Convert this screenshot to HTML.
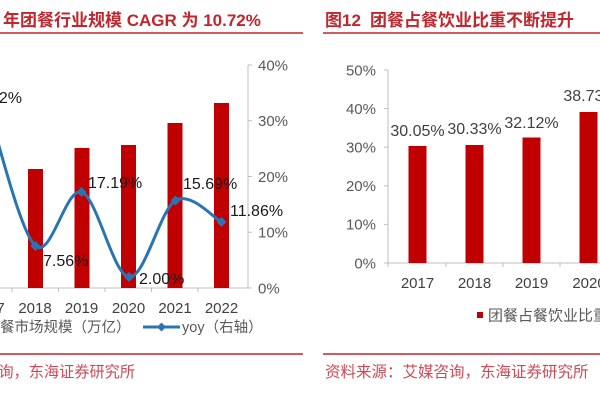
<!DOCTYPE html>
<html><head><meta charset="utf-8"><style>
html,body{margin:0;padding:0;background:#fff;width:600px;height:400px;overflow:hidden}
svg{display:block;font-family:"Liberation Sans","Noto Sans CJK SC",sans-serif}
</style></head><body>
<svg width="600" height="400" viewBox="0 0 600 400" xmlns="http://www.w3.org/2000/svg">
<rect width="600" height="400" fill="#fff"/>

<!-- LEFT PANEL -->
<text x="-3" y="26" text-anchor="end" font-size="17" font-weight="bold" fill="#C0262D">图11  2017-2022</text>
<text x="3" y="26" font-size="17" font-weight="bold" fill="#C0262D">年团餐行业规模 CAGR 为 10.72%</text>
<line x1="0" y1="33" x2="303" y2="33" stroke="#C0262D" stroke-width="1.6"/>

<!-- right axis -->
<g stroke="#BFBFBF" stroke-width="1">
<line x1="248" y1="65" x2="248" y2="288"/>
<line x1="248" y1="65" x2="252" y2="65"/>
<line x1="248" y1="120.75" x2="252" y2="120.75"/>
<line x1="248" y1="176.5" x2="252" y2="176.5"/>
<line x1="248" y1="232.25" x2="252" y2="232.25"/>
<line x1="248" y1="288" x2="252" y2="288"/>
<line x1="0" y1="288" x2="248" y2="288"/>
<line x1="12" y1="288" x2="12" y2="292"/>
<line x1="58.5" y1="288" x2="58.5" y2="292"/>
<line x1="105" y1="288" x2="105" y2="292"/>
<line x1="151.5" y1="288" x2="151.5" y2="292"/>
<line x1="198" y1="288" x2="198" y2="292"/>
</g>
<g font-size="15" fill="#595959">
<text x="258" y="70.5">40%</text>
<text x="258" y="126">30%</text>
<text x="258" y="182">20%</text>
<text x="258" y="237.5">10%</text>
<text x="258" y="293.5">0%</text>
</g>

<!-- bars -->
<g fill="#C00000">
<rect x="28" y="169" width="15" height="119"/>
<rect x="74.5" y="148" width="15" height="140"/>
<rect x="121" y="145" width="15" height="143"/>
<rect x="167.5" y="123" width="15" height="165"/>
<rect x="214" y="103" width="15" height="185"/>
</g>

<!-- yoy line -->
<path d="M-11,112 C-3.25,134 20.1,232.3 35.5,246 C50.9,259.7 65.9,186.8 81.5,192 C97.1,197.2 113.3,275.6 129,277 C144.7,278.4 160.1,209.7 175.5,200.5 C190.9,191.3 213.8,218.4 221.5,222" fill="none" stroke="#2A74B4" stroke-width="3"/>
<g fill="#2A74B4">
<polygon points="35.5,241 40.5,246 35.5,251 30.5,246"/>
<polygon points="81.5,187 86.5,192 81.5,197 76.5,192"/>
<polygon points="129,272 134,277 129,282 124,277"/>
<polygon points="175.5,195.5 180.5,200.5 175.5,205.5 170.5,200.5"/>
<polygon points="221.5,217 226.5,222 221.5,227 216.5,222"/>
</g>

<!-- data labels -->
<g font-size="16" fill="#1a1a1a">
<text x="22" y="103" text-anchor="end">28.82%</text>
<text x="88" y="188">17.19%</text>
<text x="183" y="189">15.69%</text>
<text x="230" y="216">11.86%</text>
<text x="43" y="266">7.56%</text>
<text x="139" y="284">2.00%</text>
</g>

<!-- x labels -->
<g font-size="15" fill="#404040" text-anchor="middle">
<text x="-12" y="313">2017</text>
<text x="35" y="313">2018</text>
<text x="81.5" y="313">2019</text>
<text x="128.5" y="313">2020</text>
<text x="175" y="313">2021</text>
<text x="221.5" y="313">2022</text>
</g>

<!-- legend -->
<text x="-14.5" y="332" font-size="14.5" fill="#595959">团餐市场规模（万亿）</text>
<line x1="143" y1="327" x2="180" y2="327" stroke="#2A74B4" stroke-width="3"/>
<polygon points="161.5,322.5 166,327 161.5,331.5 157,327" fill="#2A74B4"/>
<text x="182" y="332" font-size="14.5" fill="#595959">yoy（右轴）</text>

<line x1="0" y1="354" x2="303" y2="354" stroke="#C0262D" stroke-width="1.6"/>
<text x="135" y="377" text-anchor="end" font-size="15.2" fill="#CC4A57">资料来源：艾媒咨询，东海证券研究所</text>

<!-- RIGHT PANEL -->
<text x="325" y="26" font-size="17" font-weight="bold" fill="#C0262D">图12</text>
<text x="370" y="26" font-size="17" font-weight="bold" fill="#C0262D">团餐占餐饮业比重不断提升</text>
<line x1="323" y1="33" x2="600" y2="33" stroke="#C0262D" stroke-width="1.6"/>

<g stroke="#BFBFBF" stroke-width="1">
<line x1="388" y1="70" x2="388" y2="263"/>
<line x1="384" y1="70" x2="388" y2="70"/>
<line x1="384" y1="108.6" x2="388" y2="108.6"/>
<line x1="384" y1="147.2" x2="388" y2="147.2"/>
<line x1="384" y1="185.8" x2="388" y2="185.8"/>
<line x1="384" y1="224.4" x2="388" y2="224.4"/>
<line x1="384" y1="263" x2="388" y2="263"/>
<line x1="388" y1="263" x2="600" y2="263"/>
<line x1="388" y1="263" x2="388" y2="267"/>
<line x1="446" y1="263" x2="446" y2="267"/>
<line x1="503" y1="263" x2="503" y2="267"/>
<line x1="560" y1="263" x2="560" y2="267"/>
</g>
<g font-size="15" fill="#595959" text-anchor="end">
<text x="376" y="75.5">50%</text>
<text x="376" y="114">40%</text>
<text x="376" y="152.5">30%</text>
<text x="376" y="191">20%</text>
<text x="376" y="229.5">10%</text>
<text x="376" y="268.5">0%</text>
</g>

<g fill="#C00000">
<rect x="408.5" y="146" width="18" height="117"/>
<rect x="465.5" y="145" width="18" height="118"/>
<rect x="522.5" y="137.5" width="18" height="125.5"/>
<rect x="579.5" y="112" width="18" height="151"/>
</g>

<g font-size="16" fill="#404040" text-anchor="middle">
<text x="417.5" y="136">30.05%</text>
<text x="474.5" y="134">30.33%</text>
<text x="531.5" y="128">32.12%</text>
<text x="590.5" y="101">38.73%</text>
</g>

<g font-size="15" fill="#404040" text-anchor="middle">
<text x="417.5" y="288">2017</text>
<text x="474.5" y="288">2018</text>
<text x="531.5" y="288">2019</text>
<text x="589" y="288">2020</text>
</g>

<rect x="477" y="312" width="6" height="6" fill="#C00000"/>
<text x="488" y="320.5" font-size="15" fill="#595959">团餐占餐饮业比重</text>

<line x1="323" y1="354" x2="600" y2="354" stroke="#C0262D" stroke-width="1.6"/>
<text x="325" y="377" font-size="15.5" fill="#CC4A57">资料来源：艾媒咨询，东海证券研究所</text>
</svg>
</body></html>
